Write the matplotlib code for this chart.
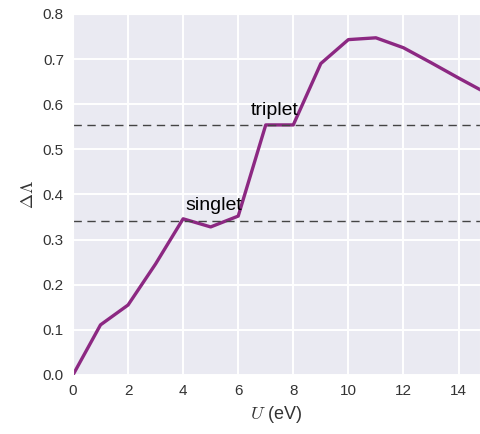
import matplotlib
matplotlib.use("Agg")
import matplotlib.pyplot as plt
import seaborn as sns

sns.set_style("darkgrid")
plt.rcParams['font.family'] = ['Liberation Sans', 'DejaVu Sans']
plt.rcParams['mathtext.fontset'] = 'cm'

U = [0, 1, 2, 3, 4, 5, 6, 7, 8, 9, 10, 11, 12, 13, 14, 15]
dLambda = [0.0, 0.111, 0.155, 0.246, 0.346, 0.328, 0.352, 0.554, 0.554,
           0.690, 0.743, 0.747, 0.725, 0.692, 0.658, 0.625]
singlet = 0.341
triplet = 0.553

fig, ax = plt.subplots(figsize=(4.8, 4.34), dpi=100)
fig.subplots_adjust(left=0.152, right=1.0, top=0.968, bottom=0.136)

ax.grid(True, color='white', lw=1.4)
ax.plot(U, dLambda, color='#8c2882', lw=2.4)
ax.axhline(singlet, color='#444444', ls='--', lw=1.0, dashes=(6, 4))
ax.axhline(triplet, color='#444444', ls='--', lw=1.0, dashes=(6, 4))
ax.text(4.1, singlet + 0.024, 'singlet', fontsize=14, color='black')
ax.text(6.45, triplet + 0.022, 'triplet', fontsize=14, color='black')

ax.set_xlim(0, 14.78)
ax.set_ylim(0, 0.8)
ax.set_xticks(range(0, 15, 2))
ax.set_yticks([0.0, 0.1, 0.2, 0.3, 0.4, 0.5, 0.6, 0.7, 0.8])
ax.tick_params(labelsize=11, length=3, color='#555555', labelcolor='#333333')
ax.set_xlabel(r'$U$ (eV)', fontsize=13, color='#333333')
ax.set_ylabel(r'$\Delta\Lambda$', fontsize=13, color='#333333')

fig.savefig('out.png', dpi=100)
